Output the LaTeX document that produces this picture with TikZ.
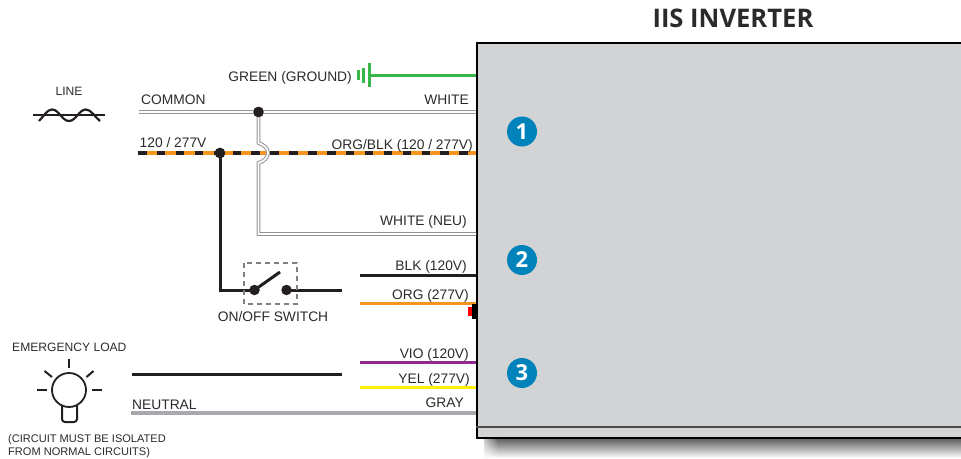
\documentclass[tikz,border=0pt]{standalone}
\usepackage{fontspec}
\setmainfont{Liberation Sans}
\newfontfamily\titlefont{Open Sans}
\usetikzlibrary{fadings}
\definecolor{txt}{HTML}{2B2A2B}
\definecolor{boxgray}{HTML}{D1D3D4}
\definecolor{wblack}{HTML}{231F20}
\definecolor{worange}{HTML}{F7941E}
\definecolor{wgreen}{HTML}{39B54A}
\definecolor{wviolet}{HTML}{92278F}
\definecolor{wyellow}{HTML}{FFF200}
\definecolor{wgray}{HTML}{A7A9AC}
\definecolor{badge}{HTML}{0082BA}
\tikzset{
  x=1pt,y=-1pt,
  lbl/.style={inner sep=0pt,text=txt,font=\fontsize{13.8}{13.8}\selectfont},
  lblsmall/.style={inner sep=0pt,text=txt,font=\fontsize{12.1}{12.1}\selectfont},
  lbltiny/.style={inner sep=0pt,text=txt,font=\fontsize{11.05}{11.05}\selectfont},
  wire/.style={line width=3pt,wblack},
  dotn/.style={circle,fill=wblack,inner sep=0pt,minimum size=10.5pt},
  numbadge/.style={circle,fill=badge,inner sep=0pt,minimum size=30pt,text=white,font=\titlefont\bfseries\fontsize{22}{22}\selectfont},
  whitewire/.style={line width=3.8pt,draw=gray!85},
  whitecore/.style={line width=1.8pt,draw=white},
}
\begin{document}
\begin{tikzpicture}
\useasboundingbox (0,0) rectangle (961,458);
\clip (0,0) rectangle (961,458);
% shadow
\shade[top color=black!68,bottom color=white] (484,437) rectangle (961,458);
\fill[white,path fading=east] (477,436) rectangle (498,458);
% box
\node[draw=black,line width=1.5pt,fill=boxgray,minimum width=520pt,minimum height=395pt,anchor=north west,inner sep=0pt] (box) at (476,42) {};
\draw[line width=1.2pt,black!70] (476,427) -- (961,427);
\node[inner sep=0pt,font=\titlefont\bfseries\fontsize{25.6}{25.6}\selectfont,text=txt,anchor=base] (title) at (733,27) {IIS INVERTER};
% endpoints
\coordinate (gndL) at (369,75); \coordinate (gndR) at (476,75);
\coordinate (comL) at (139,112); \coordinate (comR) at (476,112);
\coordinate (hotL) at (138,153); \coordinate (hotR) at (476,153);
\coordinate (jA) at (258.5,143); \coordinate (jB) at (258.5,163);
\coordinate (neuC) at (258.5,234); \coordinate (neuR) at (476,234);
\coordinate (swC) at (220,290); \coordinate (swR) at (342,290);
\coordinate (armE) at (280,272);
\coordinate (blkL) at (360,275); \coordinate (blkR) at (476,275);
\coordinate (orgL) at (360,303); \coordinate (orgR) at (476,303);
\coordinate (vioL) at (360,362); \coordinate (vioR) at (476,362);
\coordinate (yelL) at (360,387); \coordinate (yelR) at (476,387);
\coordinate (grayL) at (131,413); \coordinate (grayR) at (476,413);
\coordinate (loadL) at (132,374); \coordinate (loadR) at (342,374);
% dots
\node[dotn] (dcom) at (258.5,112) {};
\node[dotn] (dhot) at (220,153) {};
\node[dotn] (sw1) at (254.5,290) {};
\node[dotn] (sw2) at (286.5,290) {};
% hot wire
\draw[line width=4.2pt,worange] (hotL) -- (hotR);
\draw[line width=4.2pt,wblack,dash pattern=on 8.5pt off 10.4pt] (hotL) -- (hotR);
% green + ground
\draw[line width=3pt,wgreen] (gndL) -- (gndR);
\draw[line width=3pt,wgreen] (369,63) -- (369,87);
\draw[line width=3pt,wgreen] (363.3,67.5) -- (363.3,83);
\draw[line width=3pt,wgreen] (358,70) -- (358,80);
% white wires
\def\neupath{(dcom.center) -- (jA) .. controls (264,145) and (268,148) .. (268,153) .. controls (268,158) and (264,161) .. (jB) -- (neuC) -- (neuR)}
\draw[whitewire] (comL) -- (comR);
\draw[whitewire,line join=miter] \neupath;
\draw[whitecore] (comL) -- (comR);
\draw[whitecore,line join=miter] \neupath;
\node[dotn] at (dcom) {};
\node[dotn] at (dhot) {};
% black wires
\draw[wire] (dhot.center) -- (swC) -- (sw1.center);
\draw[wire] (sw1.center) -- (armE);
\draw[wire] (sw2.center) -- (swR);
\draw[wire] (blkL) -- (blkR);
\draw[wire] (loadL) -- (loadR);
\draw[line width=3pt,worange] (orgL) -- (orgR);
\draw[line width=3pt,wviolet] (vioL) -- (vioR);
\draw[line width=3pt,wyellow] (yelL) -- (yelR);
\draw[line width=3.4pt,wgray] (grayL) -- (grayR);
\draw[line width=1.8pt,dash pattern=on 5pt off 4pt,black!50] (244,263) rectangle (297,304);
% connector stub
\fill[black] (472,304) rectangle (476,319);
\fill[red] (468,307) rectangle (472,316);
% badges
\node[numbadge] (n1) at (522,131.5) {1};
\node[numbadge] (n2) at (522,260) {2};
\node[numbadge] (n3) at (522,373) {3};
% line symbol
\coordinate (ls1) at (33,115); \coordinate (ls2) at (105,115);
\draw[line width=2.2pt,wblack] (ls1) -- (ls2);
\draw[line width=2.2pt,wblack] (39,121) .. controls (44,116) and (47,109.5) .. (52,109.5) .. controls (59,109.5) and (62,121) .. (69,121) .. controls (76,121) and (79,109.5) .. (86,109.5) .. controls (91,109.5) and (95,117) .. (100,121);
% bulb
\draw[line width=1.8pt,wblack] (69,390) circle (17);
\draw[line width=2pt,wblack,rounded corners=3pt] (62,405.5) -- (62,422) -- (77,422) -- (77,405.5);
\draw[line width=2pt,wblack] (69,359) -- (69,368);
\draw[line width=2pt,wblack] (44.5,371) -- (52,377);
\draw[line width=2pt,wblack] (93.5,371) -- (86.5,377);
\draw[line width=2pt,wblack] (37,390) -- (47,390);
\draw[line width=2pt,wblack] (92,390) -- (102,390);
% labels
\node[lblsmall,anchor=base] (tline) at (69,95) {LINE};
\node[lbl,anchor=base west] (tcom) at (141,104) {COMMON};
\node[lbl,anchor=base west] (thot) at (139.5,147) {120 / 277V};
\node[lbl,anchor=base east] (tgnd) at (352,81.5) {GREEN (GROUND)};
\node[lbl,anchor=base east] (twh) at (469,104) {WHITE};
\node[lbl,anchor=base east] (tob) at (473,149) {ORG/BLK (120 / 277V)};
\node[lbl,anchor=base east] (tneu) at (467,225.5) {WHITE (NEU)};
\node[lbl,anchor=base east] (tblk) at (467,270) {BLK (120V)};
\node[lbl,anchor=base east] (torg) at (469,299) {ORG (277V)};
\node[lbl,anchor=base east] (tvio) at (469,358) {VIO (120V)};
\node[lbl,anchor=base east] (tyel) at (470,383) {YEL (277V)};
\node[lbl,anchor=base east] (tgray) at (464,407.5) {GRAY};
\node[lbl,anchor=base] (tsw) at (273,321) {ON/OFF SWITCH};
\node[lbl,anchor=base west] (tneut) at (132,409) {NEUTRAL};
\node[lblsmall,anchor=base west] (tem) at (12,351) {EMERGENCY LOAD};
\node[lbltiny,anchor=base west] (tc1) at (8,442) {(CIRCUIT MUST BE ISOLATED};
\node[lbltiny,anchor=base west] (tc2) at (8,455) {FROM NORMAL CIRCUITS)};
\end{tikzpicture}
\end{document}
